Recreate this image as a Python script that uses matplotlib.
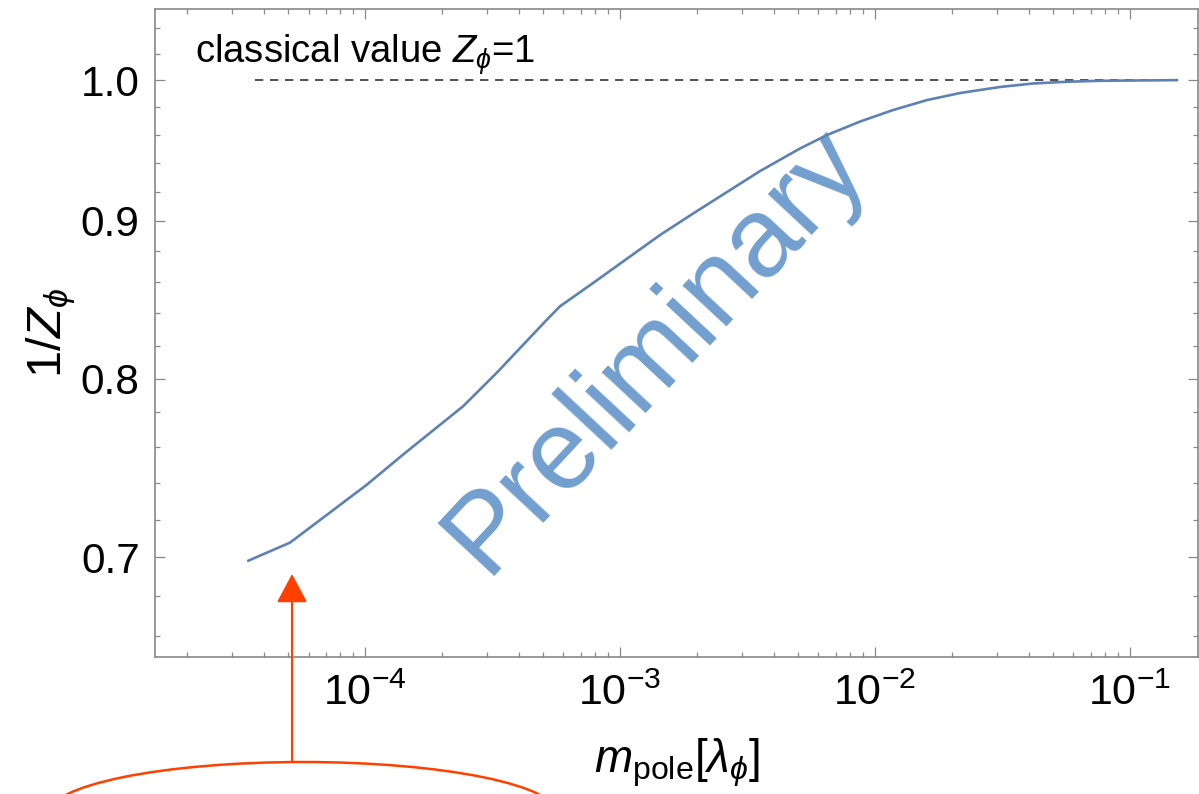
import matplotlib
matplotlib.use("Agg")
import matplotlib.pyplot as plt
from matplotlib.patches import Ellipse
from matplotlib.ticker import FixedLocator, FixedFormatter, LogLocator, NullFormatter

plt.rcParams['font.family'] = ['Liberation Sans', 'DejaVu Sans']
plt.rcParams['mathtext.fontset'] = 'custom'
plt.rcParams['mathtext.rm'] = 'Liberation Sans'
plt.rcParams['mathtext.it'] = 'Liberation Sans:italic'
plt.rcParams['mathtext.fallback'] = 'stixsans'

# ---- data ----
m_pole = [3.486e-5, 5.08e-5, 1.016e-4, 1.409e-4, 2.423e-4, 3.285e-4, 5.159e-4,
          5.815e-4, 7.834e-4, 1.065e-3, 1.435e-3, 1.933e-3, 2.628e-3, 3.54e-3,
          5.08e-3, 6.48e-3, 8.73e-3, 1.1765e-2, 1.599e-2, 2.154e-2, 3.092e-2,
          4.166e-2, 5.66e-2, 7.627e-2, 1.528e-1]
inv_Z = [0.6982, 0.7077, 0.7390, 0.7558, 0.7836, 0.8035, 0.8359,
         0.8444, 0.8592, 0.8750, 0.8906, 0.9050, 0.9197, 0.9342,
         0.9501, 0.9597, 0.9694, 0.9778, 0.9851, 0.9903, 0.9948,
         0.9974, 0.9987, 0.9994, 0.9999]
classical_x = [3.7e-5, 1.52e-1]
classical_y = [1.0, 1.0]
y_major = [0.7, 0.8, 0.9, 1.0]
y_major_labels = ["0.7", "0.8", "0.9", "1.0"]
y_minor = [0.66, 0.68, 0.72, 0.74, 0.76, 0.78, 0.82, 0.84, 0.86, 0.88,
           0.92, 0.94, 0.96, 0.98, 1.02, 1.04]

W, H = 1199, 794
fig = plt.figure(figsize=(W / 100, H / 100), dpi=100)
ax = fig.add_axes([155 / W, 1 - 657 / H, (1198 - 155) / W, (657 - 9) / H])

ax.plot(m_pole, inv_Z, color='#5E81B5', lw=1.9, solid_joinstyle='round', zorder=3)
ax.plot(classical_x, classical_y, color='#333333', lw=1.2, ls=(0, (5, 4)), zorder=2)

ax.set_xscale('log')
ax.set_yscale('log')
ax.set_xlim(1.5e-5, 0.1848)
ax.set_ylim(0.6497, 1.0545)

ax.yaxis.set_major_locator(FixedLocator(y_major))
ax.yaxis.set_major_formatter(FixedFormatter(y_major_labels))
ax.yaxis.set_minor_locator(FixedLocator(y_minor))
ax.yaxis.set_minor_formatter(NullFormatter())
ax.xaxis.set_major_locator(LogLocator(base=10, numticks=20))
ax.xaxis.set_minor_locator(LogLocator(base=10, subs=range(2, 10), numticks=50))
ax.xaxis.set_minor_formatter(NullFormatter())

for s in ax.spines.values():
    s.set_color('#888888')
    s.set_linewidth(1.2)
ax.tick_params(which='both', direction='in', top=True, right=True, color='#888888',
               width=0.9)
ax.tick_params(which='major', length=7)
ax.tick_params(which='minor', length=3.5)
ax.tick_params(axis='x', which='major', pad=12, labelsize=31)
ax.tick_params(axis='y', which='major', pad=11, labelsize=30.5)

ax.set_xlabel(r'$m_{\mathrm{pole}}[\lambda_\phi]$', fontsize=33, labelpad=16)
ax.set_ylabel(r'$1/Z_\phi$', fontsize=35, labelpad=2)

ax.text(195 / W, 1 - 63 / H, r'classical value $Z_\phi$=1', transform=fig.transFigure,
        fontsize=27.5, ha='left', va='baseline', color='black')

# watermark
ax.text(656 / W, 1 - 350 / H, 'Preliminary', transform=fig.transFigure,
        fontsize=81, color='#729FCF', rotation=47, ha='center', va='center',
        rotation_mode='anchor', zorder=1)

# red arrow and ellipse annotation
red = '#FF4000'
ax.annotate('', xy=(292 / W, 1 - 574 / H), xycoords=fig.transFigure,
            xytext=(292 / W, 1 - 762 / H), textcoords=fig.transFigure,
            arrowprops=dict(arrowstyle='-|>,head_length=0.9,head_width=0.48',
                            mutation_scale=20, color=red, lw=1.5,
                            shrinkA=0, shrinkB=0),
            annotation_clip=False)
fig.patches.append(Ellipse((303 / W, 1 - 814 / H), 510 / W, 104 / H,
                           transform=fig.transFigure, fill=False,
                           edgecolor=red, lw=1.8))

fig.savefig('out.png', dpi=100)
